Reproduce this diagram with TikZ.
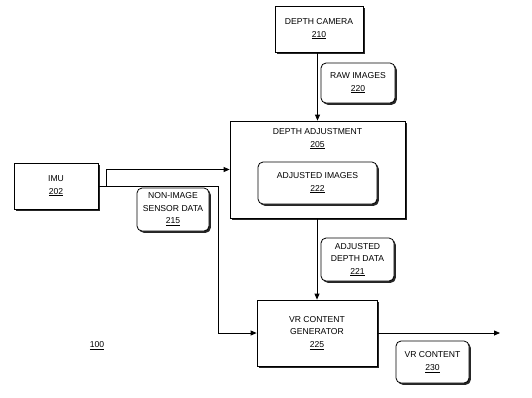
\documentclass[tikz,border=0pt]{standalone}
\usepackage{fontspec}
\setmainfont{Liberation Sans}
\usetikzlibrary{shadows,arrows.meta}
\begin{document}
\begin{tikzpicture}[x=1pt,y=-1pt,
  every node/.style={font=\fontsize{8.6}{12.5}\selectfont, align=center, inner sep=0pt},
  shd/.style={drop shadow={shadow xshift=1.8pt, shadow yshift=-1.8pt, fill=black, opacity=0.85}},
  blk/.style={draw, line width=0.8pt, fill=white, shd},
  lbl/.style={draw, line width=0.8pt, fill=white, rounded corners=5pt, shd},
  arr/.style={line width=0.8pt, -{Triangle[length=6pt,width=5pt]}}]
\useasboundingbox (0,0) rectangle (532,397);
\node[blk, minimum width=88pt, minimum height=46pt] (cam) at (319,29) {DEPTH CAMERA\\\underline{210}};
\node[blk, minimum width=175pt, minimum height=97pt] (adj) at (317.5,169.5) {};
\node (adjlbl) at (317.5,139) {DEPTH ADJUSTMENT\\\underline{205}};
\node[lbl, minimum width=119pt, minimum height=42pt] (aimg) at (317.5,183) {ADJUSTED IMAGES\\\underline{222}};
\node[blk, minimum width=84pt, minimum height=46pt] (imu) at (56,186) {IMU\\\underline{202}};
\node[blk, minimum width=120pt, minimum height=66pt] (vr) at (317,333) {VR CONTENT\\GENERATOR\\\underline{225}};
\coordinate (out) at (500,333);
\coordinate (t1) at (218,186);
\coordinate (b1) at (106,186);
\draw[arr] (cam.south -| adj.north) -- (adj.north);
\draw[arr] (adj.south -| vr.north) -- (vr.north);
\draw[arr] (vr.east) -- (out);
\draw[arr] (imu.east) -- (t1) |- (vr.west);
\draw[arr] (b1) |- (adj.west);
\node[lbl, minimum width=74pt, minimum height=40pt] (raw) at (358,83) {RAW IMAGES\\\underline{220}};
\node[lbl, minimum width=72pt, minimum height=43pt] (nis) at (173,209.5) {NON-IMAGE\\SENSOR DATA\\\underline{215}};
\node[lbl, minimum width=73pt, minimum height=43pt] (add) at (357.5,259.5) {ADJUSTED\\DEPTH DATA\\\underline{221}};
\node[lbl, minimum width=73pt, minimum height=42pt] (vrc) at (432.5,362) {VR CONTENT\\\underline{230}};
\node (fig) at (97,346) {\underline{100}};
\end{tikzpicture}
\end{document}
